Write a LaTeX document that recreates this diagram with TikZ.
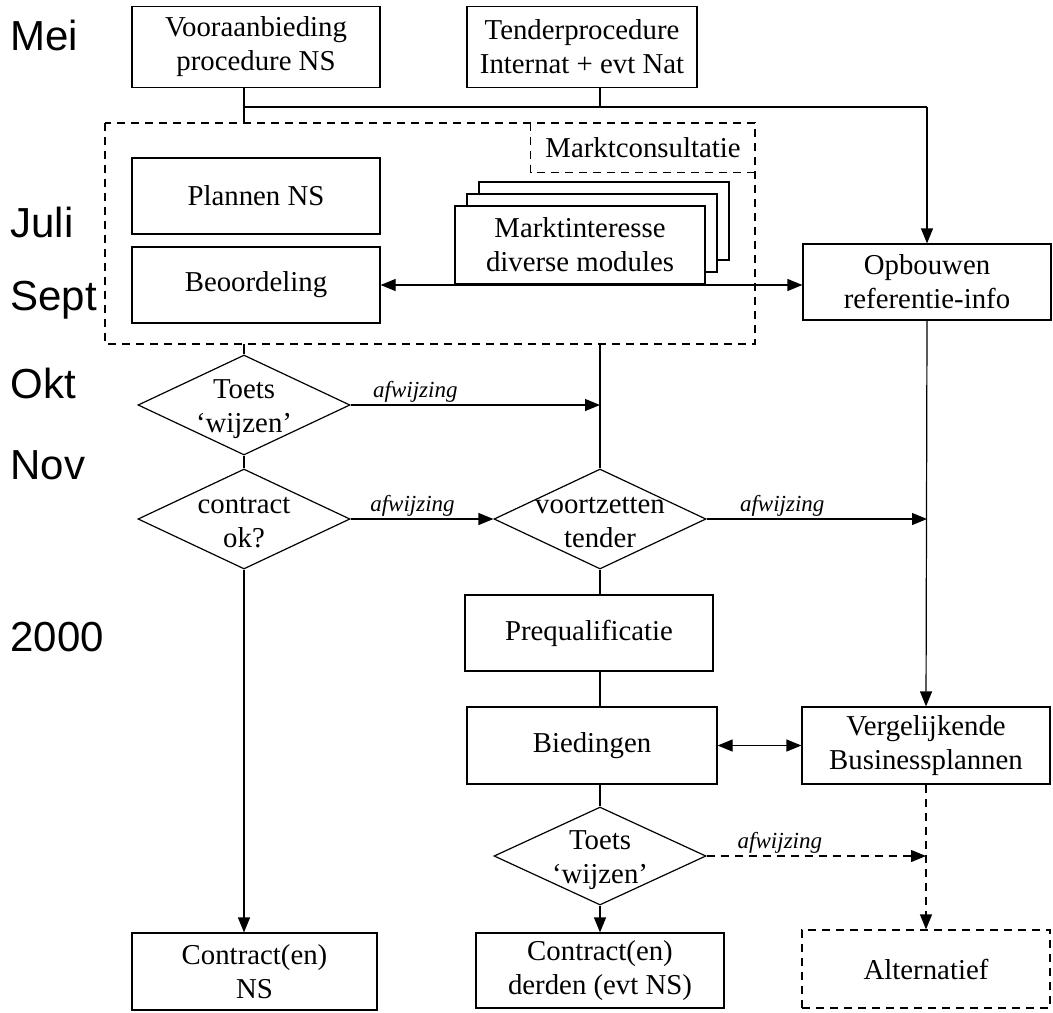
\documentclass[tikz,border=0pt]{standalone}
\usepackage{fontspec}
\setmainfont{Liberation Serif}
\newfontfamily\maandfont{Liberation Sans}
\usepackage{tikz}
\usetikzlibrary{arrows.meta,positioning,calc,shapes.geometric,shadows}
\tikzset{
  >={Triangle[length=7.5pt,width=6pt]},
  % vakken
  vak/.style={rectangle,draw=black,fill=white,line width=0.6pt,inner sep=2pt,
              align=center,font=\fontsize{14.4}{17}\selectfont,
              minimum width=124pt,minimum height=38pt},
  vakst/.style={vak,dash pattern=on 4pt off 3pt},
  ruit/.style={diamond,draw=black,line width=0.6pt,inner sep=0pt,
               minimum width=106pt,minimum height=50pt},
  rtxt/.style={align=center,font=\fontsize{14.4}{17}\selectfont,inner sep=0pt,yshift=-2pt},
  maand/.style={anchor=west,font=\maandfont\fontsize{21}{24}\selectfont,inner sep=0pt},
  % lijnen
  lijn/.style={draw=black,line width=0.6pt},
  pijl/.style={->,draw=black,line width=0.6pt},
  stip/.style={draw=black,line width=0.6pt,dash pattern=on 4pt off 3pt},
  afw/.style={font=\itshape\fontsize{11.5}{13}\selectfont,inner sep=1pt,anchor=south west},
}
\begin{document}
\begin{tikzpicture}[x=0.5pt,y=-0.5pt]
\useasboundingbox (0,0) rectangle (1053,1012);
  % maanden
  \node[maand] (mei) at (10,35) {Mei};
  \node[maand] (juli) at (10,222) {Juli};
  \node[maand] (sept) at (10,300) {Sept};
  \node[maand] (okt) at (10,383) {Okt};
  \node[maand] (nov) at (10,465) {Nov};
  \node[maand] (jaar) at (10,637) {2000};
  % start
  \node[vak,minimum height=40.5pt] (voor) at (256,47) {Vooraanbieding\\procedure NS};
  \node[vak,minimum width=115pt,minimum height=40.5pt] (tender) at (582,47) {Tenderprocedure\\Internat + evt Nat};
  % marktconsultatie
  \coordinate (mc-nw) at (105,123);
  \coordinate (mc-se) at (755,344);
  \draw[stip] (mc-nw) rectangle (mc-se);
  \node[minimum width=112pt,minimum height=24.5pt,font=\fontsize{14.4}{17}\selectfont] (consult) at (643,147.5) {Marktconsultatie};
  \draw[stip] (consult.north west) -- (consult.south west) -- (consult.south east);
  \node[vak] (plannen) at (256,196) {Plannen NS};
  \node[vak] (beoord) at (256,285) {Beoordeling};
  \node[vak,minimum width=125pt,minimum height=39pt,
        double copy shadow={shadow xshift=6pt,shadow yshift=6pt}] (markt) at (580,245) {Marktinteresse\\diverse modules};
  \node[vak] (opbouw) at (927,282) {Opbouwen\\referentie-info};
  % beslissingen
  \node[ruit,label={[rtxt]center:{Toets\\‘wijzen’}}] (toets1) at (244,405) {};
  \node[ruit,label={[rtxt]center:{contract\\ok?}}] (check) at (244,519) {};
  \node[ruit,label={[rtxt]center:{voortzetten\\tender}}] (voortz) at (600,519) {};
  \node[vak] (prequal) at (589,633) {Prequalificatie};
  \node[vak,minimum width=125pt,minimum height=38.5pt] (bied) at (592,745.5) {Biedingen};
  \node[vak,minimum height=38.5pt] (vergel) at (926,745.5) {Vergelijkende\\Businessplannen};
  \node[ruit,minimum height=49pt,label={[rtxt]center:{Toets\\‘wijzen’}}] (toets2) at (600,856) {};
  % uitkomsten
  \node[vak,minimum width=122.5pt,minimum height=38.5pt] (cns) at (254.5,971.5) {Contract(en)\\NS};
  \node[vak,minimum height=37.5pt] (derden) at (600,970.5) {Contract(en)\\derden (evt NS)};
  \node[vakst,minimum height=39pt] (altern) at (926,969) {Alternatief};
  % verbindingen
  \coordinate (knikL) at (244,107);
  \coordinate (knikR) at (927,107);
  \draw[lijn] (voor.south -| knikL) -- (knikL |- mc-nw);
  \draw[lijn] (knikL) -- (knikR);
  \draw[lijn] (tender.south -| voortz) -- (voortz |- knikL);
  \draw[pijl] (knikR) -- (opbouw.north);
  \draw[pijl,<->] (beoord.east) -- (beoord.east -| opbouw.west);
  \draw[lijn] (toets1 |- mc-se) -- (toets1.north);
  \draw[lijn] (toets1.south) -- (check.north);
  \draw[pijl] (toets1.east) -- node[afw,pos=0.08] {afwijzing} (toets1.east -| voortz);
  \draw[lijn] (voortz |- mc-se) -- (voortz.north);
  \draw[pijl] (check.east) -- node[afw,pos=0.12] {afwijzing} (voortz.west);
  \draw[pijl] (voortz.east) -- node[afw,pos=0.14] {afwijzing} (voortz.east -| opbouw);
  \draw[pijl] (opbouw.south) -- (vergel.north);
  \draw[pijl] (check.south) -- (check.south |- cns.north);
  \draw[lijn] (voortz.south) -- (voortz |- prequal.north);
  \draw[lijn] (voortz |- prequal.south) -- (voortz |- bied.north);
  \draw[lijn] (voortz |- bied.south) -- (toets2.north);
  \draw[pijl] (toets2.south) -- (toets2 |- derden.north);
  \draw[pijl,<->] (bied.east) -- (vergel.west);
  \draw[stip,->] (vergel.south) -- (altern.north);
  \draw[stip,->] (toets2.east) -- node[afw,pos=0.13] {afwijzing} (toets2.east -| vergel);
\end{tikzpicture}
\end{document}
